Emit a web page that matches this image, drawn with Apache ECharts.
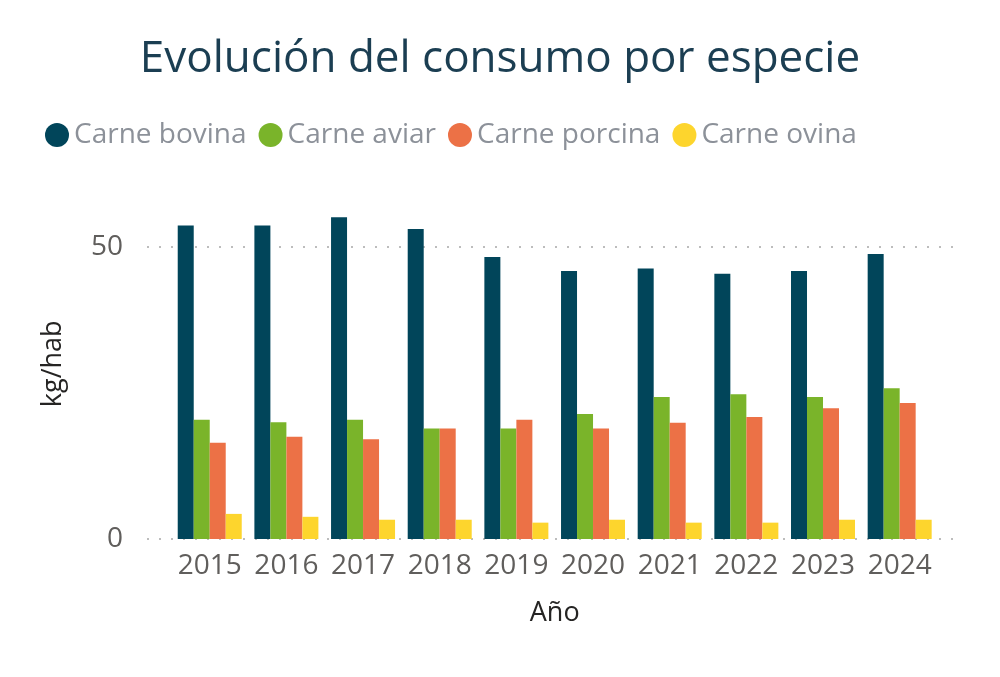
<!DOCTYPE html>
<html>
<head>
<meta charset="utf-8">
<script src="https://cdn.jsdelivr.net/npm/echarts@6/dist/echarts.min.js"></script>
<style>
  html, body { margin: 0; padding: 0; background: #fff; }
  #chart { width: 1000px; height: 677px; }
</style>
</head>
<body>
<div id="chart"></div>
<script>
const years = ['2015', '2016', '2017', '2018', '2019', '2020', '2021', '2022', '2023', '2024'];
const bovina = [53.7, 53.7, 55.1, 53.1, 48.3, 45.9, 46.3, 45.4, 45.9, 48.8];
const aviar = [20.4, 20.0, 20.4, 18.9, 18.9, 21.4, 24.3, 24.8, 24.3, 25.8];
const porcina = [16.5, 17.5, 17.1, 18.9, 20.4, 18.9, 19.9, 20.9, 22.4, 23.3];
const ovina = [4.3, 3.8, 3.3, 3.3, 2.8, 3.3, 2.8, 2.8, 3.3, 3.3];

const seriesNames = ['Carne bovina', 'Carne aviar', 'Carne porcina', 'Carne ovina'];
const seriesColors = ['#01455a', '#7ab42a', '#ec7146', '#fdd52d'];

const font = '"Open Sans", "Noto Sans", sans-serif';
const chart = echarts.init(document.getElementById('chart'));

// grid 0 only carries the y labels and dotted lines, which run wider than the bars
const plotTop = 188.6, plotBottom = 138;

function barSeries(name, data, i) {
  return {
    name: name,
    type: 'bar',
    xAxisIndex: 1,
    yAxisIndex: 1,
    data: data,
    barWidth: 16,
    barGap: '0%',
    clip: false,
    itemStyle: { color: seriesColors[i] }
  };
}

chart.setOption({
  animation: false,
  textStyle: { fontFamily: font },
  title: {
    text: 'Evolución del consumo por especie',
    left: 'center',
    top: 32,
    textStyle: { fontSize: 44, fontWeight: 'normal', color: '#1b3e52', fontFamily: font }
  },
  legend: {
    data: seriesNames,
    left: 40,
    top: 116,
    icon: 'circle',
    itemWidth: 24,
    itemHeight: 24,
    itemGap: 12,
    textStyle: { fontSize: 28, color: '#8c9199', fontFamily: font }
  },
  grid: [
    { left: 147, right: 42, top: plotTop, bottom: plotBottom },
    { left: 171.4, right: 62, top: plotTop, bottom: plotBottom }
  ],
  xAxis: [
    { type: 'value', gridIndex: 0, show: false, min: 0, max: 1 },
    {
      type: 'category',
      gridIndex: 1,
      data: years,
      axisLine: { show: false },
      axisTick: { show: false },
      axisLabel: { fontSize: 28, color: '#605e5c', margin: 13, interval: 0 },
      name: 'Año',
      nameLocation: 'middle',
      nameGap: 61,
      nameTextStyle: { fontSize: 27, color: '#252423' }
    }
  ],
  yAxis: [
    {
      type: 'value',
      gridIndex: 0,
      min: 0,
      max: 60,
      interval: 50,
      axisLine: { show: false },
      axisTick: { show: false },
      axisLabel: { fontSize: 28, color: '#605e5c', margin: 24, showMaxLabel: false },
      splitLine: {
        show: true,
        showMaxLine: false,
        lineStyle: { color: '#bdbdbd', width: 2, type: [2, 10] }
      },
      name: 'kg/hab',
      nameLocation: 'middle',
      nameGap: 80,
      nameTextStyle: { fontSize: 27, color: '#252423' }
    },
    { type: 'value', gridIndex: 1, min: 0, max: 60, show: false }
  ],
  series: [
    barSeries(seriesNames[0], bovina, 0),
    barSeries(seriesNames[1], aviar, 1),
    barSeries(seriesNames[2], porcina, 2),
    barSeries(seriesNames[3], ovina, 3)
  ]
});
</script>
</body>
</html>
